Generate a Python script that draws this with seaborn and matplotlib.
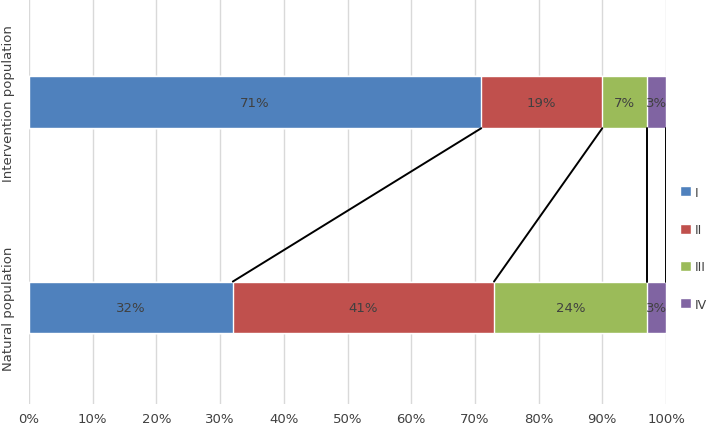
import numpy as np
import pandas as pd
import seaborn as sns
import matplotlib
matplotlib.use("Agg")
import matplotlib.pyplot as plt

populations = ["Intervention population", "Natural population"]
classes = ["I", "II", "III", "IV"]
intervention = [71, 19, 7, 3]
natural = [32, 41, 24, 3]
colors = ["#4F81BD", "#C0504D", "#9BBB59", "#8064A2"]
xticks = [0, 10, 20, 30, 40, 50, 60, 70, 80, 90, 100]

sns.set_theme(style="white")
plt.rcParams['font.family'] = ['DejaVu Sans']

fig = plt.figure(figsize=(7.09, 4.35), dpi=100)
ax = fig.add_axes([29/709, 30/435, 637/709, 405/435])

vals = np.array([intervention, natural], dtype=float)
cum = np.cumsum(vals, axis=1)
bar_h = 0.253

# draw stacked bars from largest cumulative to smallest
for i in range(len(classes) - 1, -1, -1):
    df = pd.DataFrame({"pop": populations, "val": cum[:, i]})
    sns.barplot(data=df, x="val", y="pop", orient="h", color=colors[i],
                width=bar_h, saturation=1, ax=ax, label=classes[i], zorder=2)

# segment labels
for r in range(2):
    left = 0
    for i in range(len(classes)):
        ax.text(left + vals[r, i] / 2, r, f"{int(vals[r, i])}%", ha="center", va="center",
                fontsize=9.5, color="#404040", zorder=4)
        left += vals[r, i]

# connector lines
for i in range(len(classes)):
    ax.plot([cum[0, i], cum[1, i]], [0 + bar_h / 2, 1 - bar_h / 2], color="black", lw=1.4, zorder=3)

ax.set_xlim(0, 100)
ax.set_ylim(1.47, -0.503)
ax.set_xticks(xticks)
ax.set_xticklabels([f"{t}%" for t in xticks], fontsize=9.5, color="#404040")
ax.set_xlabel("")
ax.set_ylabel("")
ax.set_yticks([0, 1])
ax.set_yticklabels(populations, rotation=90, va="center", fontsize=9.5, color="#404040")
ax.tick_params(axis="y", pad=10, length=0)
ax.tick_params(axis="x", pad=6, length=0)
ax.xaxis.grid(True, color="#D9D9D9", lw=1, zorder=0)
ax.set_axisbelow(True)
for s in ax.spines.values():
    s.set_visible(False)

handles, labels = ax.get_legend_handles_labels()
order = [labels.index(c) for c in classes]
ax.legend([handles[k] for k in order], classes, loc="center left", bbox_to_anchor=(1.022, 0.385),
          frameon=False, fontsize=9, handlelength=0.85, handleheight=0.85, labelspacing=1.95,
          handletextpad=0.35, borderpad=0, borderaxespad=0, labelcolor="#404040")

fig.savefig("out.png", dpi=100)
